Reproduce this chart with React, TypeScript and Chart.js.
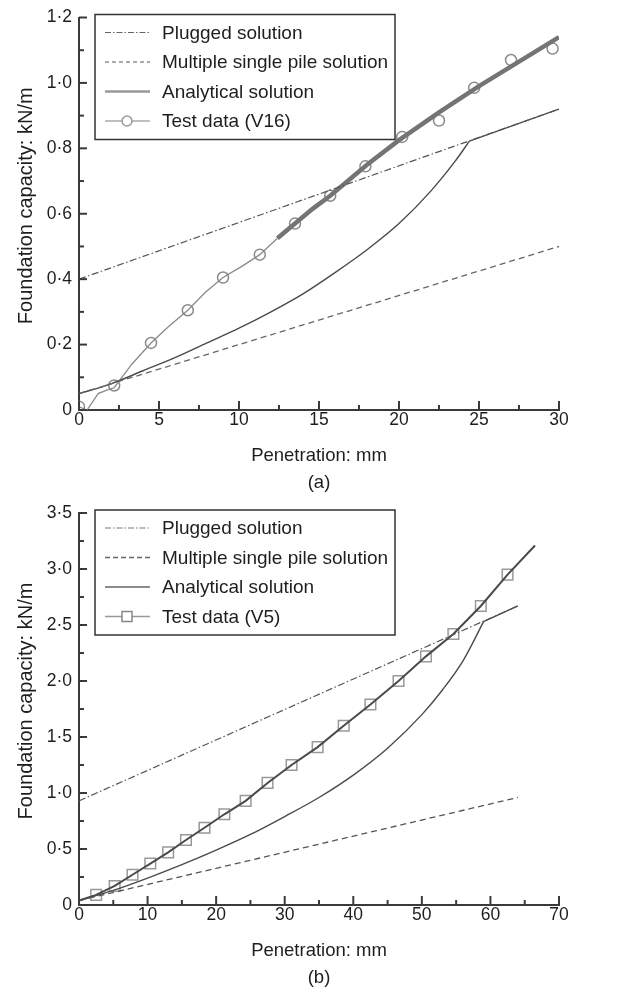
import React, { useEffect, useRef } from 'react';
import { Chart, registerables } from 'chart.js';
Chart.register(...registerables);

// ---------- Panel (a) data ----------
const aPluggedX = [0, 30];
const aPluggedY = [0.40, 0.92];
const aMultipleX = [0, 30];
const aMultipleY = [0.05, 0.50];
// analytical: smooth curve up to the kink, then along the plugged line
const aAnalyticalX = [0, 2, 4, 6, 8, 10, 12, 14, 16, 18, 20, 22, 23.5, 24.4, 30];
const aAnalyticalY = [0.05, 0.08, 0.12, 0.16, 0.205, 0.25, 0.30, 0.355, 0.42, 0.49, 0.57, 0.67, 0.76, 0.822, 0.92];
const aTestX = [0, 0.5, 1.2, 1.7, 2.2, 3.3, 4.5, 5.6, 6.8, 7.9, 9.0, 10.2, 11.3, 12.4, 13.5, 14.6, 15.7, 18.0, 20.0, 22.5, 25.0, 27.5, 30];
const aTestY = [0.01, 0.0, 0.05, 0.06, 0.068, 0.14, 0.205, 0.255, 0.305, 0.36, 0.405, 0.44, 0.475, 0.525, 0.57, 0.615, 0.655, 0.75, 0.825, 0.91, 0.99, 1.065, 1.14];
const aMarkX = [0, 2.2, 4.5, 6.8, 9.0, 11.3, 13.5, 15.7, 17.9, 20.2, 22.5, 24.7, 27.0, 29.6];
const aMarkY = [0.01, 0.075, 0.205, 0.305, 0.405, 0.475, 0.57, 0.655, 0.745, 0.835, 0.885, 0.985, 1.07, 1.105];
const aXTickValues = [0, 5, 10, 15, 20, 25, 30];
const aXTickLabels = ['0', '5', '10', '15', '20', '25', '30'];
const aYTickValues = [0, 0.2, 0.4, 0.6, 0.8, 1.0, 1.2];
const aYTickLabels = ['0', '0·2', '0·4', '0·6', '0·8', '1·0', '1·2'];

// ---------- Panel (b) data ----------
const bPluggedX = [0, 64];
const bPluggedY = [0.93, 2.67];
const bMultipleX = [0, 64];
const bMultipleY = [0.04, 0.96];
const bAnalyticalX = [0, 5, 10, 15, 20, 25, 30, 35, 40, 45, 50, 53, 56, 59, 64];
const bAnalyticalY = [0.04, 0.13, 0.24, 0.36, 0.49, 0.63, 0.79, 0.96, 1.16, 1.40, 1.70, 1.92, 2.18, 2.53, 2.67];
const bTestX = [0, 2.5, 5.2, 7.8, 10.4, 13, 15.6, 18.3, 21.2, 24.3, 27.5, 31, 34.8, 38.6, 42.5, 46.6, 50.6, 54.6, 58.6, 62.5, 66.5];
const bTestY = [0.04, 0.09, 0.17, 0.27, 0.37, 0.47, 0.58, 0.69, 0.81, 0.93, 1.09, 1.25, 1.41, 1.60, 1.79, 2.00, 2.22, 2.42, 2.67, 2.95, 3.21];
const bMarkX = [2.5, 5.2, 7.8, 10.4, 13, 15.6, 18.3, 21.2, 24.3, 27.5, 31, 34.8, 38.6, 42.5, 46.6, 50.6, 54.6, 58.6, 62.5];
const bMarkY = [0.09, 0.17, 0.27, 0.37, 0.47, 0.58, 0.69, 0.81, 0.93, 1.09, 1.25, 1.41, 1.60, 1.79, 2.00, 2.22, 2.42, 2.67, 2.95];
const bXTickValues = [0, 10, 20, 30, 40, 50, 60, 70];
const bXTickLabels = ['0', '10', '20', '30', '40', '50', '60', '70'];
const bYTickValues = [0, 0.5, 1.0, 1.5, 2.0, 2.5, 3.0, 3.5];
const bYTickLabels = ['0', '0·5', '1·0', '1·5', '2·0', '2·5', '3·0', '3·5'];

const legendNames = ['Plugged solution', 'Multiple single pile solution', 'Analytical solution'];

const FONT = '"Liberation Sans", Arial, Helvetica, sans-serif';
const AXIS = '#3a3a3a';
const TEXT = '#1e1e1e';

const pts = (xs: number[], ys: number[]) => xs.map((x, i) => ({ x, y: ys[i] }));
const labelFor = (vals: number[], labels: string[]) => (v: number) => {
  const i = vals.findIndex((t) => Math.abs(t - v) < 1e-6);
  return i >= 0 ? labels[i] : '';
};

type LegendItem = { label: string; color: string; width: number; dash: number[]; marker?: 'circle' | 'rect'; markerColor?: string };

function makeDecor(opts: { caption: string; legend: LegendItem[] }) {
  return {
    id: 'decor',
    afterDraw(chart: any) {
      const ctx = chart.ctx as CanvasRenderingContext2D;
      const area = chart.chartArea;
      const xs = chart.scales.x;
      const ys = chart.scales.y;
      ctx.save();
      ctx.strokeStyle = AXIS;
      ctx.lineWidth = 2;
      ctx.setLineDash([]);
      xs.ticks.forEach((t: any) => {
        const px = xs.getPixelForValue(t.value);
        const len = t.label ? 9 : 5;
        ctx.beginPath();
        ctx.moveTo(px, area.bottom);
        ctx.lineTo(px, area.bottom - len);
        ctx.stroke();
      });
      ys.ticks.forEach((t: any) => {
        const py = ys.getPixelForValue(t.value);
        const len = t.label ? 8 : 5;
        ctx.beginPath();
        ctx.moveTo(area.left, py);
        ctx.lineTo(area.left + len, py);
        ctx.stroke();
      });
      ctx.fillStyle = TEXT;
      ctx.textAlign = 'center';
      ctx.textBaseline = 'middle';
      ctx.font = `18.5px ${FONT}`;
      const cx = (area.left + area.right) / 2;
      ctx.fillText('Penetration: mm', cx, area.bottom + 46);
      ctx.fillText(opts.caption, cx, area.bottom + 73);
      ctx.save();
      ctx.translate(26, (area.top + area.bottom) / 2 - 8);
      ctx.rotate(-Math.PI / 2);
      ctx.font = `20px ${FONT}`;
      ctx.fillText('Foundation capacity: kN/m', 0, 0);
      ctx.restore();
      // legend
      const lx = area.left + 16;
      const ly = area.top - 3;
      ctx.fillStyle = '#fff';
      ctx.fillRect(lx, ly, 300, 125);
      ctx.strokeStyle = '#333';
      ctx.lineWidth = 1.5;
      ctx.strokeRect(lx, ly, 300, 125);
      ctx.font = `19px ${FONT}`;
      ctx.textAlign = 'left';
      opts.legend.forEach((it, i) => {
        const y = ly + 18 + i * 29.5;
        ctx.strokeStyle = it.color;
        ctx.lineWidth = it.width;
        ctx.setLineDash(it.dash);
        ctx.beginPath();
        ctx.moveTo(lx + 10, y);
        ctx.lineTo(lx + 55, y);
        ctx.stroke();
        ctx.setLineDash([]);
        if (it.marker) {
          ctx.fillStyle = '#fff';
          ctx.strokeStyle = it.markerColor || it.color;
          ctx.lineWidth = 1.5;
          ctx.beginPath();
          if (it.marker === 'circle') ctx.arc(lx + 32, y, 5, 0, Math.PI * 2);
          else ctx.rect(lx + 27, y - 5, 10, 10);
          ctx.fill();
          ctx.stroke();
        }
        ctx.fillStyle = TEXT;
        ctx.fillText(it.label, lx + 67, y + 1);
      });
      ctx.restore();
    },
  };
}

function makeConfig(p: {
  datasets: any[];
  xMax: number; xStep: number; xVals: number[]; xLabels: string[];
  yMax: number; yStep: number; yVals: number[]; yLabels: string[];
  top: number; xHeight: number; caption: string; legend: LegendItem[];
}) {
  return {
    type: 'line' as const,
    data: { datasets: p.datasets },
    options: {
      responsive: false,
      animation: false,
      devicePixelRatio: 1,
      layout: { padding: { top: p.top, right: 83, left: 0, bottom: 0 } },
      plugins: { legend: { display: false }, tooltip: { enabled: false } },
      scales: {
        x: {
          type: 'linear', min: 0, max: p.xMax,
          grid: { display: false, drawTicks: false },
          border: { display: true, color: AXIS, width: 2 },
          ticks: { stepSize: p.xStep, autoSkip: false, maxRotation: 0, padding: 0, color: TEXT, font: { family: FONT, size: 17.5 }, callback: labelFor(p.xVals, p.xLabels) },
          afterFit: (s: any) => { s.height = p.xHeight; },
        },
        y: {
          type: 'linear', min: 0, max: p.yMax,
          grid: { display: false, drawTicks: false },
          border: { display: true, color: AXIS, width: 2 },
          ticks: { stepSize: p.yStep, autoSkip: false, padding: 7, color: TEXT, font: { family: FONT, size: 17.5 }, callback: labelFor(p.yVals, p.yLabels) },
          afterFit: (s: any) => { s.width = 79; },
        },
      },
    },
    plugins: [makeDecor({ caption: p.caption, legend: p.legend })],
  };
}

const lineDs = (data: any[], color: string, width: number, dash: number[], smooth = false) => ({
  data, borderColor: color, borderWidth: width, borderDash: dash, pointRadius: 0, fill: false,
  tension: 0, cubicInterpolationMode: smooth ? 'monotone' : 'default',
});

// analytical curve: smooth part up to the kink (second-to-last point), straight afterwards
const analyticalSets = (xs: number[], ys: number[], color: string) => {
  const k = xs.length - 2;
  return [
    lineDs(pts(xs.slice(0, k + 1), ys.slice(0, k + 1)), color, 1.4, [], true),
    lineDs(pts(xs.slice(k), ys.slice(k)), color, 1.4, []),
  ];
};

const configA = () => makeConfig({
  datasets: [
    lineDs(pts(aPluggedX, aPluggedY), '#555', 1.2, [7, 2.5, 1.5, 2.5]),
    lineDs(pts(aMultipleX, aMultipleY), '#666', 1.3, [6, 4]),
    ...analyticalSets(aAnalyticalX, aAnalyticalY, '#4a4a4a'),
    {
      data: pts(aTestX, aTestY), borderColor: '#8a8a8a', borderWidth: 1.3, pointRadius: 0, fill: false, tension: 0,
      segment: {
        borderWidth: (c: any) => (c.p0.parsed.x >= 12.4 ? 4.5 : 1.3),
        borderColor: (c: any) => (c.p0.parsed.x >= 12.4 ? '#747474' : '#8a8a8a'),
      },
    },
    { data: pts(aMarkX, aMarkY), showLine: false, pointRadius: 5.5, pointStyle: 'circle', pointBackgroundColor: '#fff', pointBorderColor: '#8a8a8a', pointBorderWidth: 1.5 },
  ],
  xMax: 30, xStep: 2.5, xVals: aXTickValues, xLabels: aXTickLabels,
  yMax: 1.2, yStep: 0.1, yVals: aYTickValues, yLabels: aYTickLabels,
  top: 15, xHeight: 84, caption: '(a)',
  legend: [
    { label: legendNames[0], color: '#666', width: 1.2, dash: [6, 2, 1.5, 2] },
    { label: legendNames[1], color: '#aaa', width: 2, dash: [4, 3] },
    { label: legendNames[2], color: '#999', width: 2.5, dash: [] },
    { label: 'Test data (V16)', color: '#aaa', width: 1.5, dash: [], marker: 'circle', markerColor: '#999' },
  ],
});

const configB = () => makeConfig({
  datasets: [
    lineDs(pts(bPluggedX, bPluggedY), '#555', 1.2, [7, 2.5, 1.5, 2.5]),
    lineDs(pts(bMultipleX, bMultipleY), '#555', 1.3, [6, 4]),
    ...analyticalSets(bAnalyticalX, bAnalyticalY, '#4a4a4a'),
    { data: pts(bTestX, bTestY), borderColor: '#4a4a4a', borderWidth: 2, pointRadius: 0, fill: false, tension: 0 },
    { data: pts(bMarkX, bMarkY), showLine: false, pointRadius: 7.5, pointStyle: 'rect', pointBackgroundColor: '#fff', pointBorderColor: '#999', pointBorderWidth: 1.5 },
  ],
  xMax: 70, xStep: 5, xVals: bXTickValues, xLabels: bXTickLabels,
  yMax: 3.5, yStep: 0.25, yVals: bYTickValues, yLabels: bYTickLabels,
  top: 19, xHeight: 83, caption: '(b)',
  legend: [
    { label: legendNames[0], color: '#777', width: 1.2, dash: [6, 2, 1.5, 2] },
    { label: legendNames[1], color: '#666', width: 1.3, dash: [5, 3] },
    { label: legendNames[2], color: '#666', width: 1.5, dash: [] },
    { label: 'Test data (V5)', color: '#999', width: 1.5, dash: [], marker: 'rect', markerColor: '#888' },
  ],
});

function ChartCanvas({ make }: { make: () => any }) {
  const ref = useRef<HTMLCanvasElement | null>(null);
  useEffect(() => {
    if (!ref.current) return;
    const chart = new Chart(ref.current, make());
    return () => chart.destroy();
  }, [make]);
  return <canvas ref={ref} width={642} height={494} style={{ display: 'block', width: 642, height: 494 }} />;
}

export default function App() {
  return (
    <div style={{ position: 'absolute', left: 0, top: 0, width: 642, height: 988, background: '#fff' }}>
      <ChartCanvas make={configA} />
      <ChartCanvas make={configB} />
    </div>
  );
}
